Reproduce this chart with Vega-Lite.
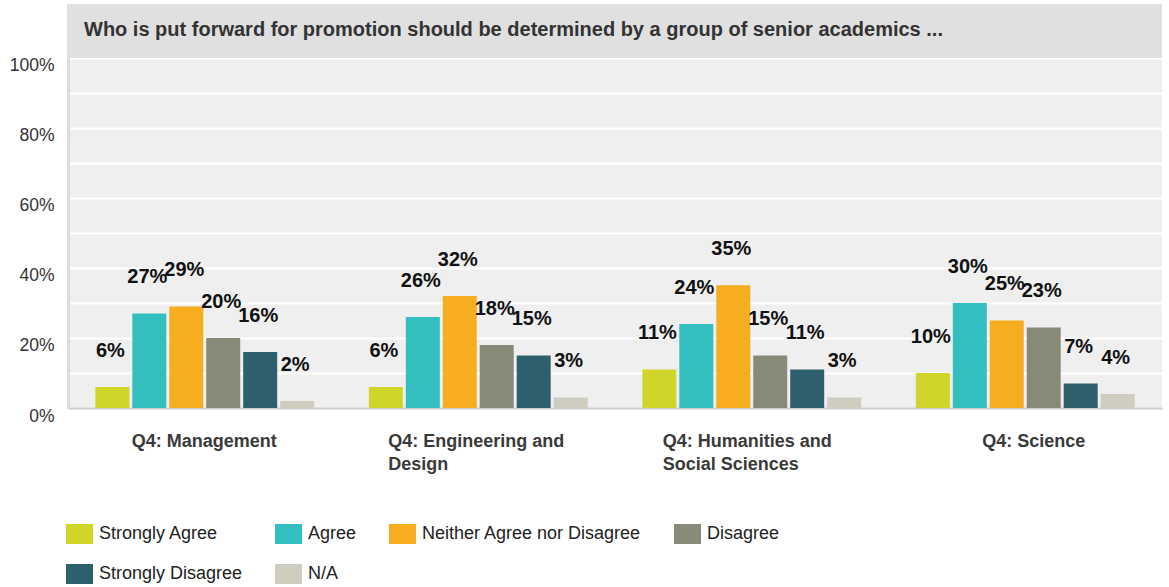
{
  "$schema": "https://vega.github.io/schema/vega-lite/v6.json",
  "width": 1094,
  "height": 404,
  "autosize": {"type": "none"},
  "padding": {"left": 68, "top": 4, "right": 7, "bottom": 179},
  "background": "white",
  "config": {
    "view": {"fill": "#efefef", "stroke": null},
    "font": "Liberation Sans"
  },
  "title": {
    "text": "Who is put forward for promotion should be determined by a group of senior academics ...",
    "anchor": "start",
    "frame": "group",
    "orient": "top",
    "offset": -52,
    "baseline": "alphabetic",
    "dx": 16,
    "fontSize": 20,
    "fontWeight": "bold",
    "color": "#333333",
    "font": "Liberation Sans",
    "zindex": 1
  },
  "data": {
    "values": [
      {"group": "Q4: Management", "response": "Strongly Agree", "pct": 0.06},
      {"group": "Q4: Management", "response": "Agree", "pct": 0.27},
      {"group": "Q4: Management", "response": "Neither Agree nor Disagree", "pct": 0.29},
      {"group": "Q4: Management", "response": "Disagree", "pct": 0.20},
      {"group": "Q4: Management", "response": "Strongly Disagree", "pct": 0.16},
      {"group": "Q4: Management", "response": "N/A", "pct": 0.02},
      {"group": "Q4: Engineering and Design", "response": "Strongly Agree", "pct": 0.06},
      {"group": "Q4: Engineering and Design", "response": "Agree", "pct": 0.26},
      {"group": "Q4: Engineering and Design", "response": "Neither Agree nor Disagree", "pct": 0.32},
      {"group": "Q4: Engineering and Design", "response": "Disagree", "pct": 0.18},
      {"group": "Q4: Engineering and Design", "response": "Strongly Disagree", "pct": 0.15},
      {"group": "Q4: Engineering and Design", "response": "N/A", "pct": 0.03},
      {"group": "Q4: Humanities and Social Sciences", "response": "Strongly Agree", "pct": 0.11},
      {"group": "Q4: Humanities and Social Sciences", "response": "Agree", "pct": 0.24},
      {"group": "Q4: Humanities and Social Sciences", "response": "Neither Agree nor Disagree", "pct": 0.35},
      {"group": "Q4: Humanities and Social Sciences", "response": "Disagree", "pct": 0.15},
      {"group": "Q4: Humanities and Social Sciences", "response": "Strongly Disagree", "pct": 0.11},
      {"group": "Q4: Humanities and Social Sciences", "response": "N/A", "pct": 0.03},
      {"group": "Q4: Science", "response": "Strongly Agree", "pct": 0.10},
      {"group": "Q4: Science", "response": "Agree", "pct": 0.30},
      {"group": "Q4: Science", "response": "Neither Agree nor Disagree", "pct": 0.25},
      {"group": "Q4: Science", "response": "Disagree", "pct": 0.23},
      {"group": "Q4: Science", "response": "Strongly Disagree", "pct": 0.07},
      {"group": "Q4: Science", "response": "N/A", "pct": 0.04}
    ]
  },
  "encoding": {
    "y": {
      "field": "pct",
      "type": "quantitative",
      "scale": {"domain": [0, 1.153], "nice": false, "zero": true},
      "axis": {
        "title": null,
        "values": [0, 0.1, 0.2, 0.3, 0.4, 0.5, 0.6, 0.7, 0.8, 0.9, 1.0],
        "format": ".0%",
        "labelExpr": "round(datum.value * 10) % 2 == 0 ? datum.label : ''",
        "grid": true,
        "gridColor": "#ffffff",
        "gridWidth": 2,
        "ticks": false,
        "domainColor": "#dcdcdc",
        "domainWidth": 3,
        "labelFontSize": 17.5,
        "labelColor": "#333333",
        "labelFont": "Liberation Sans",
        "labelPadding": 14,
        "labelOffset": 8
      }
    }
  },
  "layer": [
    {
      "mark": {"type": "rect", "fill": "#e0e0e0", "opacity": 1, "stroke": null},
      "encoding": {
        "x": {"value": 0},
        "x2": {"value": "width"},
        "y": {"datum": 1.153, "type": "quantitative"},
        "y2": {"datum": 1.0}
      }
    },
    {
      "mark": {"type": "bar"},
      "encoding": {
        "x": {
          "field": "group",
          "type": "nominal",
          "sort": null,
          "scale": {"paddingInner": 0.2, "paddingOuter": 0.1},
          "axis": {
            "title": null,
            "ticks": false,
            "domainColor": "#cccccc",
            "domainWidth": 2,
            "labelAngle": 0,
            "labelLimit": 0,
            "labelFont": "Liberation Sans",
            "labelFontSize": 18,
            "labelFontWeight": "bold",
            "labelColor": "#3a3a3a",
            "labelAlign": "left",
            "labelBaseline": "alphabetic",
            "labelPadding": 38,
            "labelLineHeight": 23,
            "labelExpr": "datum.label == 'Q4: Engineering and Design' ? ['Q4: Engineering and', 'Design'] : datum.label == 'Q4: Humanities and Social Sciences' ? ['Q4: Humanities and', 'Social Sciences'] : datum.label",
            "labelOffset": {"expr": "datum.value == 'Q4: Management' ? -73 : datum.value == 'Q4: Engineering and Design' ? -90 : datum.value == 'Q4: Humanities and Social Sciences' ? -89 : -43"}
          }
        },
        "xOffset": {
          "field": "response",
          "type": "nominal",
          "sort": ["Strongly Agree", "Agree", "Neither Agree nor Disagree", "Disagree", "Strongly Disagree", "N/A"],
          "scale": {"paddingInner": 0.08, "paddingOuter": 0}
        },
        "color": {
          "field": "response",
          "type": "nominal",
          "scale": {
            "domain": ["Strongly Agree", "Agree", "Neither Agree nor Disagree", "Disagree", "Strongly Disagree", "N/A"],
            "range": ["#d0d52a", "#33bec0", "#f6ae20", "#898978", "#2e5f6d", "#cfcdbf"]
          },
          "legend": {
            "title": null,
            "orient": "none",
            "legendX": 1.5,
            "legendY": 520,
            "direction": "horizontal",
            "columns": 4,
            "gridAlign": "none",
            "padding": 0,
            "symbolType": "M-1.35,-1L1.35,-1L1.35,1L-1.35,1Z",
            "symbolSize": 400,
            "symbolStrokeWidth": 0,
            "symbolOpacity": 1,
            "labelFont": "Liberation Sans",
            "labelFontSize": 18,
            "labelColor": "#222222",
            "labelOffset": 9.5,
            "labelLimit": 0,
            "columnPadding": 32,
            "rowPadding": 20
          }
        }
      }
    },
    {
      "mark": {
        "type": "text",
        "baseline": "alphabetic",
        "dy": -30,
        "dx": -2,
        "fontSize": 20,
        "fontWeight": "bold",
        "color": "#111111",
        "font": "Liberation Sans"
      },
      "encoding": {
        "x": {"field": "group", "type": "nominal", "sort": null},
        "xOffset": {
          "field": "response",
          "type": "nominal",
          "sort": ["Strongly Agree", "Agree", "Neither Agree nor Disagree", "Disagree", "Strongly Disagree", "N/A"]
        },
        "text": {"field": "pct", "type": "quantitative", "format": ".0%"}
      }
    }
  ]
}
